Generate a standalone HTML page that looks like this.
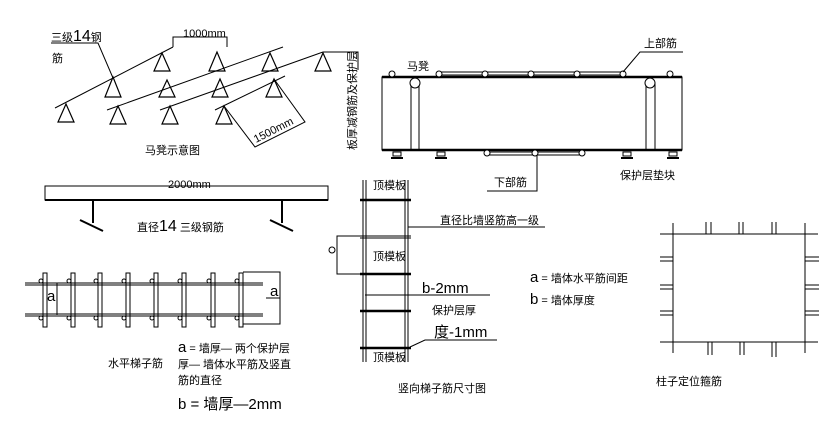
<!DOCTYPE html>
<html><head><meta charset="utf-8"><style>
html,body{margin:0;padding:0;background:#fff}
svg{display:block}
text{font-family:"Liberation Sans","WenQuanYi Zen Hei","Noto Sans CJK SC",sans-serif;fill:#000}
.s{font-size:11px}
.l{font-size:15px}
</style></head><body>
<svg width="829" height="423" viewBox="0 0 829 423" xmlns="http://www.w3.org/2000/svg" stroke="#000" fill="none" stroke-width="1">
<!-- 马凳示意图 -->
<g>
<line x1="55" y1="108" x2="173" y2="47"/>
<line x1="107" y1="110" x2="283" y2="47"/>
<line x1="160" y1="110" x2="323" y2="52"/>
<polyline points="323,52 358,52 358,70"/>
<line x1="215" y1="110" x2="285" y2="76"/>
<polyline points="173,47 173,37 227,37 227,47"/>
<polyline points="51,43 98,43 113,78"/>
<g stroke-width="1.2">
<polygon points="66,104 58,122 74,122"/><polygon points="118,106 110,124 126,124"/><polygon points="170,106 162,124 178,124"/><polygon points="224,106 216,124 232,124"/>
<polygon points="113,77 105,97 121,97"/><polygon points="167,80 159,97 175,97"/><polygon points="220,79 212,97 228,97"/><polygon points="274,79 266,97 282,97"/>
<polygon points="162,53 154,71 170,71"/><polygon points="217,52 209,71 225,71"/><polygon points="270,53 262,71 278,71"/><polygon points="323,53 315,71 331,71"/>
</g>
<polyline points="224,106 255,147 305,122 274,79"/>
<text x="256" y="143" class="s" stroke="none" transform="rotate(-27 256 143)">1500mm</text>
<text x="183" y="37" class="s" stroke="none">1000mm</text>
<text x="51" y="41" class="s" stroke="none">三级<tspan font-size="16">14</tspan>钢</text>
<text x="52" y="62" class="s" stroke="none">筋</text>
<text x="145" y="154" class="s" stroke="none">马凳示意图</text>
<text x="356" y="150" class="s" stroke="none" transform="rotate(-90 356 150)">板厚减钢筋及保护层</text>
</g>
<!-- section -->
<g>
<rect x="382" y="77" width="300" height="73"/>
<line x1="382" y1="77" x2="682" y2="77" stroke-width="2.5"/>
<line x1="382" y1="150" x2="682" y2="150" stroke-width="2.5"/>
<rect x="439" y="72" width="184" height="3"/>
<rect x="487" y="152" width="95" height="3"/>
<g fill="#fff">
<circle cx="392" cy="74" r="3"/><circle cx="439" cy="74" r="3"/><circle cx="485" cy="74" r="3"/><circle cx="531" cy="74" r="3"/><circle cx="577" cy="74" r="3"/><circle cx="623" cy="74" r="3"/><circle cx="670" cy="74" r="3"/>
<circle cx="487" cy="153" r="3"/><circle cx="535" cy="153" r="3"/><circle cx="582" cy="153" r="3"/>
</g>
<rect x="411" y="82" width="8" height="68"/><circle cx="415" cy="83" r="5" fill="#fff"/>
<rect x="646" y="83" width="9" height="67"/><circle cx="650" cy="83" r="5" fill="#fff"/>
<g>
<rect x="393" y="152" width="8" height="4"/><line x1="391" y1="158" x2="403" y2="158" stroke-width="2"/>
<rect x="437" y="152" width="8" height="4"/><line x1="435" y1="158" x2="447" y2="158" stroke-width="2"/>
<rect x="623" y="152" width="8" height="4"/><line x1="621" y1="158" x2="633" y2="158" stroke-width="2"/>
<rect x="669" y="152" width="8" height="4"/><line x1="667" y1="158" x2="679" y2="158" stroke-width="2"/>
</g>
<polyline points="683,52 640,52 623,72"/>
<polyline points="487,191 537,191 537,155"/>
<text x="407" y="70" class="s" stroke="none">马凳</text>
<text x="644" y="47" class="s" stroke="none">上部筋</text>
<text x="494" y="186" class="s" stroke="none">下部筋</text>
<text x="620" y="179" class="s" stroke="none">保护层垫块</text>
</g>
<!-- beam -->
<g>
<rect x="45" y="186" width="283" height="14"/>
<line x1="45" y1="200" x2="328" y2="200" stroke-width="2"/>
<line x1="93" y1="200" x2="93" y2="223" stroke-width="2"/>
<line x1="80" y1="220" x2="103" y2="231" stroke-width="2"/>
<line x1="282" y1="200" x2="282" y2="223" stroke-width="2"/>
<line x1="270" y1="220" x2="293" y2="231" stroke-width="2"/>
<text x="168" y="188" class="s" stroke="none">2000mm</text>
<text x="137" y="231" class="s" stroke="none">直径<tspan font-size="16">14</tspan> 三级钢筋</text>
</g>
<!-- horizontal ladder -->
<g>
<line x1="25" y1="283" x2="263" y2="283"/><line x1="25" y1="285" x2="263" y2="285"/>
<line x1="25" y1="314" x2="263" y2="314"/><line x1="25" y1="316" x2="263" y2="316"/>
<g>
<rect x="43" y="273" width="4" height="54"/><rect x="71" y="273" width="4" height="54"/><rect x="98" y="273" width="4" height="54"/><rect x="126" y="273" width="4" height="54"/><rect x="154" y="273" width="4" height="54"/><rect x="182" y="273" width="4" height="54"/><rect x="211" y="273" width="4" height="54"/><rect x="239" y="273" width="4" height="54"/>
</g>
<g>
<circle cx="41" cy="281" r="2"/><circle cx="69" cy="281" r="2"/><circle cx="96" cy="281" r="2"/><circle cx="124" cy="281" r="2"/><circle cx="152" cy="281" r="2"/><circle cx="180" cy="281" r="2"/><circle cx="209" cy="281" r="2"/><circle cx="237" cy="281" r="2"/>
<circle cx="41" cy="318" r="2"/><circle cx="69" cy="318" r="2"/><circle cx="96" cy="318" r="2"/><circle cx="124" cy="318" r="2"/><circle cx="152" cy="318" r="2"/><circle cx="180" cy="318" r="2"/><circle cx="209" cy="318" r="2"/><circle cx="237" cy="318" r="2"/>
</g>
<line x1="57" y1="283" x2="57" y2="315"/>
<polyline points="243,272 280,272 280,324 243,324"/>
<line x1="266" y1="298" x2="280" y2="298"/>
<text x="47" y="301" class="l" stroke="none">a</text>
<text x="270" y="296" class="l" stroke="none">a</text>
<text x="108" y="367" class="s" stroke="none">水平梯子筋</text>
<text x="178" y="352" class="s" stroke="none"><tspan font-size="15">a</tspan> = 墙厚— 两个保护层</text>
<text x="178" y="368" class="s" stroke="none">厚— 墙体水平筋及竖直</text>
<text x="178" y="384" class="s" stroke="none">筋的直径</text>
<text x="178" y="409" class="l" stroke="none">b = 墙厚—2mm</text>
</g>
<!-- vertical ladder -->
<g>
<line x1="363" y1="180" x2="363" y2="362"/><line x1="366" y1="180" x2="366" y2="362"/>
<line x1="405" y1="180" x2="405" y2="362"/><line x1="408" y1="180" x2="408" y2="362"/>
<g stroke-width="2.5">
<line x1="360" y1="200" x2="411" y2="200"/><line x1="360" y1="274" x2="411" y2="274"/><line x1="360" y1="311" x2="411" y2="311"/><line x1="360" y1="348" x2="411" y2="348"/>
</g>
<line x1="360" y1="236" x2="411" y2="236"/><line x1="360" y1="238" x2="411" y2="238"/>
<line x1="408" y1="227" x2="545" y2="227"/>
<polyline points="363,236 337,236 337,274 363,274"/>
<circle cx="332" cy="250" r="3"/>
<line x1="365" y1="295" x2="490" y2="295"/>
<polyline points="410,347 425,340 497,340"/>
<text x="373" y="189" class="s" stroke="none">顶模板</text>
<text x="373" y="260" class="s" stroke="none">顶模板</text>
<text x="373" y="361" class="s" stroke="none">顶模板</text>
<text x="440" y="224" class="s" stroke="none">直径比墙竖筋高一级</text>
<text x="422" y="293" class="l" stroke="none">b-2mm</text>
<text x="432" y="314" class="s" stroke="none">保护层厚</text>
<text x="434" y="337" class="l" stroke="none">度-1mm</text>
<text x="530" y="282" class="s" stroke="none"><tspan font-size="15">a</tspan> = 墙体水平筋间距</text>
<text x="530" y="304" class="s" stroke="none"><tspan font-size="15">b</tspan> = 墙体厚度</text>
<text x="398" y="392" class="s" stroke="none">竖向梯子筋尺寸图</text>
</g>
<!-- column stirrup -->
<g>
<line x1="660" y1="234" x2="818" y2="234"/><line x1="660" y1="342" x2="818" y2="342"/>
<line x1="673" y1="223" x2="673" y2="353"/><line x1="805" y1="223" x2="805" y2="353"/>
<line x1="706" y1="222" x2="706" y2="234"/><line x1="711" y1="222" x2="711" y2="234"/>
<line x1="739" y1="222" x2="739" y2="234"/><line x1="743" y1="222" x2="743" y2="234"/>
<line x1="772" y1="222" x2="772" y2="234"/><line x1="776" y1="222" x2="776" y2="234"/>
<line x1="708" y1="342" x2="708" y2="355"/><line x1="712" y1="342" x2="712" y2="355"/>
<line x1="740" y1="342" x2="740" y2="355"/><line x1="744" y1="342" x2="744" y2="355"/>
<line x1="772" y1="342" x2="772" y2="357"/><line x1="776" y1="342" x2="776" y2="357"/>
<line x1="660" y1="257" x2="673" y2="257"/><line x1="660" y1="261" x2="673" y2="261"/>
<line x1="660" y1="285" x2="673" y2="285"/><line x1="660" y1="289" x2="673" y2="289"/>
<line x1="660" y1="311" x2="673" y2="311"/><line x1="660" y1="315" x2="673" y2="315"/>
<line x1="805" y1="257" x2="819" y2="257"/><line x1="805" y1="261" x2="819" y2="261"/>
<line x1="805" y1="285" x2="819" y2="285"/><line x1="805" y1="289" x2="819" y2="289"/>
<line x1="805" y1="311" x2="819" y2="311"/><line x1="805" y1="315" x2="819" y2="315"/>
<text x="656" y="385" class="s" stroke="none">柱子定位箍筋</text>
</g>
</svg>
</body></html>
